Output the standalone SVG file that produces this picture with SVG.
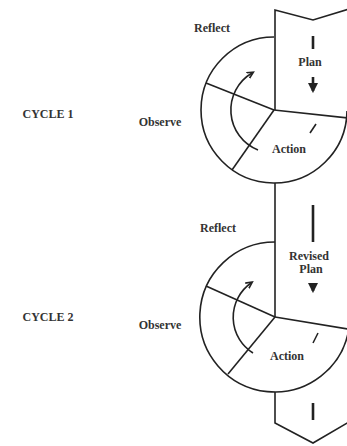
<svg xmlns="http://www.w3.org/2000/svg" width="347" height="446" viewBox="0 0 347 446">
<defs>
<style>
.ln{fill:none;stroke:#222;stroke-width:1.6}
.thick{fill:none;stroke:#222;stroke-width:2.6}
.t{font-family:"Liberation Serif","Times New Roman",serif;font-weight:bold;font-size:12px;fill:#333}
</style>
<marker id="ah" viewBox="0 0 10 10" refX="6" refY="5" markerWidth="5" markerHeight="5" orient="auto">
<path d="M0,1 L8,5 L0,9" fill="none" stroke="#222" stroke-width="2"/>
</marker>
<marker id="dn" viewBox="0 0 10 10" refX="8" refY="5" markerWidth="4" markerHeight="4" orient="auto">
<path d="M0,0 L10,5 L0,10 z" fill="#222"/>
</marker>
</defs>
<rect width="347" height="446" fill="#fff"/>
<g id="connectors">
<path class="ln" d="M275,110 L275,10 L313,20 L349,9"/>
<path class="ln" d="M275,183 L275,317"/>
<path class="ln" d="M275,392 L275,423 L313,443 L349,422"/>
</g>
<g id="cycle1">
<path class="ln" d="M274,37 A73,73 0 1,0 347,111"/>
<line class="ln" x1="274" y1="110" x2="206" y2="83"/>
<line class="ln" x1="274" y1="110" x2="348" y2="118"/>
<line class="ln" x1="274" y1="110" x2="232" y2="170"/>
<path class="ln" d="M258,150 A43,43 0 0,1 252,73" marker-end="url(#ah)"/>
<line class="ln" x1="310" y1="133" x2="316" y2="124"/>
</g>
<g id="plan1">
<line class="thick" x1="313" y1="36" x2="313" y2="49"/>
<line class="thick" x1="313" y1="77" x2="313" y2="91" marker-end="url(#dn)"/>
<text class="t" x="310" y="66" text-anchor="middle">Plan</text>
</g>
<g id="cycle2">
<path class="ln" d="M275,242 A75,75 0 1,0 349,328"/>
<line class="ln" x1="275" y1="317" x2="206" y2="286"/>
<line class="ln" x1="275" y1="317" x2="348" y2="329"/>
<line class="ln" x1="275" y1="317" x2="228" y2="374"/>
<path class="ln" d="M253,353 A42,42 0 0,1 251,283" marker-end="url(#ah)"/>
<line class="ln" x1="313" y1="343" x2="318" y2="333"/>
</g>
<g id="plan2">
<line class="thick" x1="313" y1="205" x2="313" y2="242"/>
<line class="thick" x1="313" y1="286" x2="313" y2="291" marker-end="url(#dn)"/>
<line class="thick" x1="313" y1="403" x2="313" y2="420"/>
</g>
<g id="labels">
<text class="t" x="212" y="32" text-anchor="middle">Reflect</text>
<text class="t" x="160" y="126" text-anchor="middle">Observe</text>
<text class="t" x="289" y="153" text-anchor="middle">Action</text>
<text class="t" x="48" y="118" text-anchor="middle">CYCLE 1</text>
<text class="t" x="218" y="232" text-anchor="middle">Reflect</text>
<text class="t" x="309" y="260" text-anchor="middle">Revised</text>
<text class="t" x="311" y="273" text-anchor="middle">Plan</text>
<text class="t" x="160" y="329" text-anchor="middle">Observe</text>
<text class="t" x="287" y="360" text-anchor="middle">Action</text>
<text class="t" x="48" y="321" text-anchor="middle">CYCLE 2</text>
</g>
</svg>
